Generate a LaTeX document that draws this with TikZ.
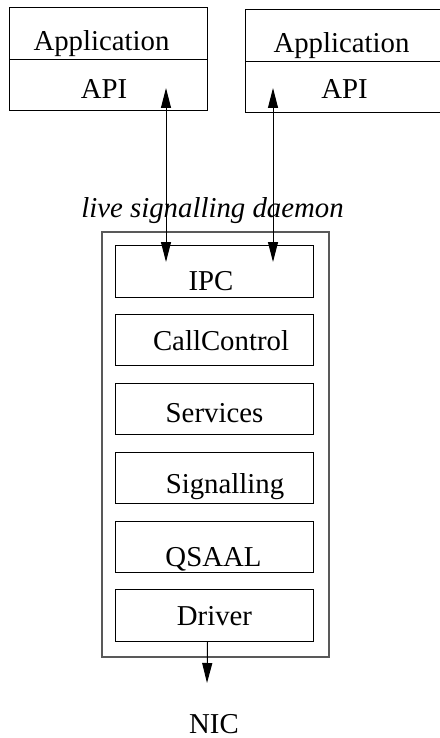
\documentclass[tikz,border=0pt]{standalone}
\usepackage{fontspec}
\setmainfont{Liberation Serif}
\usetikzlibrary{arrows.meta}
\begin{document}
\begin{tikzpicture}[x=1pt,y=-1pt,
  every node/.style={font=\fontsize{28.8}{32}\selectfont},
  cell/.style={draw=black, line width=1pt, inner sep=0pt, minimum width=198pt, text depth=0pt, anchor=north west},
  outerbox/.style={draw=black!65, line width=1.5pt},
  arr/.style={line width=1pt, -{Triangle[length=20pt,width=10pt]}},
  darr/.style={line width=1pt, {Triangle[length=20pt,width=10pt]}-{Triangle[length=20pt,width=10pt]}}]
\useasboundingbox (0,0) rectangle (439,738);
% application boxes
\node[cell, minimum height=52pt, text height=34pt] (app1) at (9,7) {Application\hspace*{14pt}};
\node[cell, minimum height=51pt, text height=28pt] (api1) at (9,59) {API\hspace*{9pt}};
\node[cell, minimum height=52pt, text height=34pt] (app2) at (245,9) {Application\hspace*{6pt}};
\node[cell, minimum height=51pt, text height=24pt] (api2) at (245,61) {API};
% daemon
\node[outerbox, minimum width=227pt, minimum height=425pt, inner sep=0pt, anchor=north west] (daemon) at (101,231) {};
\node[anchor=base, font=\fontsize{28.8}{32}\selectfont\itshape] (dlabel) at (212.5,217) {live signalling daemon};
\node[cell, minimum height=52pt, text height=38pt] (ipc) at (115,245) {IPC\hspace*{7pt}};
\node[cell, minimum height=51pt, text height=21pt] (cc) at (115,314) {\hspace*{13pt}CallControl};
\node[cell, minimum height=51pt, text height=26.4pt] (srv) at (115,383) {Services};
\node[cell, minimum height=51pt, text height=31pt] (sig) at (115,452) {\hspace*{21pt}Signalling};
\node[cell, minimum height=51pt, text height=39pt] (qsaal) at (115,521) {QSAAL\hspace*{2pt}};
\node[cell, minimum height=52pt, text height=20pt] (drv) at (115,589) {Driver};
\node[anchor=base] (nic) at (214,733) {NIC};
% connectors
\coordinate (l1) at (166,88);
\coordinate (l2) at (166,262);
\coordinate (r1) at (273,88);
\coordinate (r2) at (273,262);
\coordinate (nictip) at (207,683);
\draw[darr] (l1) -- (l2);
\draw[darr] (r1) -- (r2);
\draw[arr] ([xshift=-7pt]drv.south) -- (nictip);
\end{tikzpicture}
\end{document}
